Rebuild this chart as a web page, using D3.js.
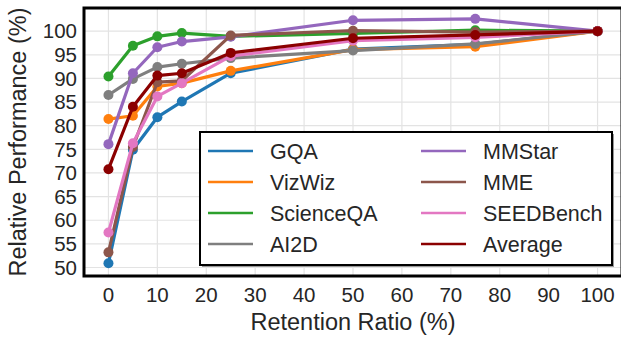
<!DOCTYPE html>
<html>
<head>
<meta charset="utf-8">
<script src="https://cdn.jsdelivr.net/npm/d3@7"></script>
<style>
  body { margin: 0; background: #fff; }
  svg { display: block; font-family: "Liberation Sans", Arial, sans-serif; }
</style>
</head>
<body>
<svg width="621" height="339"></svg>
<script>
// retention ratios (%)
const ratios = [0, 5, 10, 15, 25, 50, 75, 100];
const xTicks = [0, 10, 20, 30, 40, 50, 60, 70, 80, 90, 100];
const yTicks = [50, 55, 60, 65, 70, 75, 80, 85, 90, 95, 100];

const seriesNames = ["GQA", "VizWiz", "ScienceQA", "AI2D", "MMStar", "MME", "SEEDBench", "Average"];
const seriesColors = ["#1f77b4", "#ff7f0e", "#2ca02c", "#7f7f7f", "#9467bd", "#8c564b", "#e377c2", "#8b0000"];

const gqa = [50.9, 74.9, 81.8, 85.1, 91.1, 96.2, 97.2, 100];
const vizwiz = [81.4, 82.1, 88.3, 89.0, 91.6, 96.1, 96.7, 100];
const scienceqa = [90.4, 96.9, 98.9, 99.6, 98.9, 99.5, 100.2, 100];
const ai2d = [86.5, 89.9, 92.4, 93.1, 94.3, 95.9, 97.3, 100];
const mmstar = [76.1, 91.1, 96.6, 97.8, 98.8, 102.3, 102.6, 100];
const mme = [53.2, 75.5, 89.2, 89.5, 99.1, 100.1, 99.8, 100];
const seedbench = [57.4, 76.3, 86.2, 89.0, 94.7, 98.0, 98.7, 100];
const average = [70.8, 84.0, 90.6, 91.1, 95.4, 98.5, 99.2, 100];

const seriesValues = [gqa, vizwiz, scienceqa, ai2d, mmstar, mme, seedbench, average];

const svg = d3.select("svg");
const pLeft = 84, pTop = 8, pRight = 622, pBottom = 276;

const x = d3.scaleLinear().domain([-5, 105]).range([pLeft, pRight]);
const y = d3.scaleLinear().domain([48.2, 104.9]).range([pBottom, pTop]);

const textColor = "#262626";

// grid
svg.append("g").selectAll("line").data(xTicks).enter().append("line")
  .attr("x1", d => x(d)).attr("x2", d => x(d))
  .attr("y1", pTop).attr("y2", pBottom)
  .attr("stroke", "#e3e3e3").attr("stroke-width", 1.2);
svg.append("g").selectAll("line").data(yTicks).enter().append("line")
  .attr("x1", pLeft).attr("x2", pRight)
  .attr("y1", d => y(d)).attr("y2", d => y(d))
  .attr("stroke", "#e3e3e3").attr("stroke-width", 1.2);

// lines
const line = d3.line().x((d, i) => x(ratios[i])).y(d => y(d));
seriesValues.forEach((vals, k) => {
  const g = svg.append("g");
  g.append("path").datum(vals)
    .attr("d", line)
    .attr("fill", "none")
    .attr("stroke", seriesColors[k])
    .attr("stroke-width", 3.2)
    .attr("stroke-linejoin", "round");
  g.selectAll("circle").data(vals).enter().append("circle")
    .attr("cx", (d, i) => x(ratios[i]))
    .attr("cy", d => y(d))
    .attr("r", 5)
    .attr("fill", seriesColors[k]);
});

// frame
svg.append("rect")
  .attr("x", pLeft).attr("y", pTop)
  .attr("width", pRight - pLeft).attr("height", pBottom - pTop)
  .attr("fill", "none").attr("stroke", "#000").attr("stroke-width", 3);

// tick labels
svg.append("g").selectAll("text").data(yTicks).enter().append("text")
  .attr("x", 77).attr("y", d => y(d))
  .attr("dy", "0.35em")
  .attr("text-anchor", "end")
  .attr("font-size", 20.5)
  .attr("fill", textColor)
  .text(d => d);
svg.append("g").selectAll("text").data(xTicks).enter().append("text")
  .attr("x", d => x(d)).attr("y", 302)
  .attr("text-anchor", "middle")
  .attr("font-size", 20.5)
  .attr("fill", textColor)
  .text(d => d);

// axis titles
svg.append("text")
  .attr("x", (pLeft + pRight) / 2).attr("y", 330)
  .attr("text-anchor", "middle")
  .attr("font-size", 23.5)
  .attr("fill", textColor)
  .text("Retention Ratio (%)");
svg.append("text")
  .attr("transform", `translate(26,${(pTop + pBottom) / 2}) rotate(-90)`)
  .attr("text-anchor", "middle")
  .attr("font-size", 23.5)
  .attr("fill", textColor)
  .text("Relative Performance (%)");

// legend
const lg = svg.append("g");
lg.append("rect")
  .attr("x", 202).attr("y", 134).attr("width", 412).attr("height", 133)
  .attr("fill", "#999");
lg.append("rect")
  .attr("x", 200).attr("y", 132).attr("width", 412).attr("height", 133)
  .attr("fill", "#fff").attr("stroke", "#000").attr("stroke-width", 2);
seriesNames.forEach((name, k) => {
  const col = Math.floor(k / 4), row = k % 4;
  const lx = col === 0 ? 208 : 421;
  const ly = 151 + row * 31;
  lg.append("line")
    .attr("x1", lx).attr("x2", lx + 45)
    .attr("y1", ly).attr("y2", ly)
    .attr("stroke", seriesColors[k]).attr("stroke-width", 2.5);
  lg.append("text")
    .attr("x", lx + 62).attr("y", ly)
    .attr("dy", "0.36em")
    .attr("font-size", 21.5)
    .attr("fill", textColor)
    .text(name);
});
</script>
</body>
</html>
